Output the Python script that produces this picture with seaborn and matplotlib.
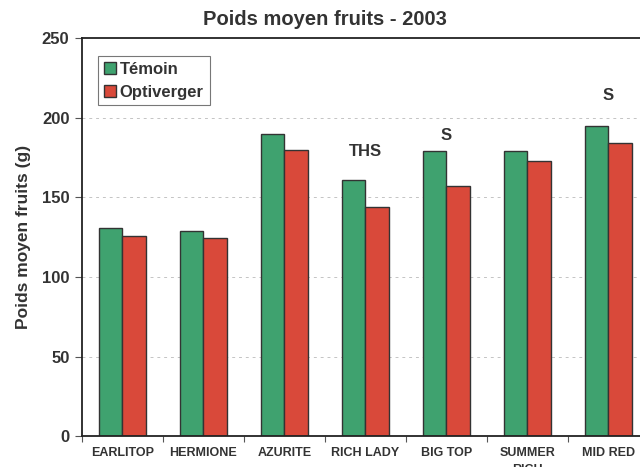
import pandas as pd
import matplotlib
matplotlib.use('Agg')
from matplotlib import pyplot as plt
import seaborn as sns

varietes = ['EARLITOP', 'HERMIONE', 'AZURITE', 'RICH LADY', 'BIG TOP', 'SUMMER\nRICH', 'MID RED']
temoin = [131, 129, 190, 161, 179, 179, 195]
optiverger = [126, 124.5, 180, 144, 157.5, 173, 184]
signif = ['', '', '', 'THS', 'S', '', 'S']
signif_y = [0, 0, 0, 179, 189, 0, 214]

df = pd.DataFrame({'variete': varietes * 2,
                   'poids': temoin + optiverger,
                   'modalite': ['Témoin'] * len(varietes) + ['Optiverger'] * len(varietes)})

sns.set_style('white')
plt.rcParams['font.family'] = ['Liberation Sans', 'DejaVu Sans']
plt.rcParams['font.weight'] = 'bold'
txt = '#333333'

fig = plt.figure(figsize=(6.4, 4.67), dpi=100)
ax = fig.add_axes([0.128, 0.066, 1.0125, 0.852])

ax.set_axisbelow(True)
for v in [50, 100, 150, 200]:
    ax.axhline(v, color='#c4c4c4', lw=0.7, ls=(0, (3, 4)), zorder=0)

sns.barplot(data=df, x='variete', y='poids', hue='modalite', order=varietes,
            palette=['#3fa26f', '#d9493a'], saturation=1, width=0.57, gap=0,
            edgecolor='#333333', linewidth=1.0, ax=ax)

ax.set_xlim(-0.5, 7.5)
ax.set_ylim(0, 250)
ax.set_yticks([0, 50, 100, 150, 200, 250])
ax.tick_params(axis='y', direction='out', length=5, width=0.8, color='#555555',
               labelsize=12, labelcolor=txt, pad=4, left=True)
ax.set_xticks(range(len(varietes)))
ax.set_xticklabels(varietes, fontsize=9, color=txt, linespacing=1.5)
ax.tick_params(axis='x', length=0, pad=8)
ax.set_xticks([i - 0.5 for i in range(9)], minor=True)
ax.tick_params(axis='x', which='minor', direction='out', length=4, width=0.8,
               color='#555555', bottom=True)

for s in ['left', 'bottom', 'top']:
    ax.spines[s].set_color('#222222')
    ax.spines[s].set_linewidth(1.3)
ax.spines['right'].set_visible(False)

for i, (lab, y) in enumerate(zip(signif, signif_y)):
    if lab:
        ax.text(i, y, lab, ha='center', va='center', fontsize=12,
                fontweight='bold', color=txt)

ax.set_xlabel('')
ax.set_ylabel('Poids moyen fruits (g)', fontsize=12.5, fontweight='bold',
              color=txt, labelpad=8)
fig.suptitle('Poids moyen fruits - 2003', x=0.508, y=0.978, fontsize=14.5,
             fontweight='bold', color=txt)

leg = ax.legend(loc='upper left', bbox_to_anchor=(0.025, 0.955), frameon=True,
                fancybox=False, edgecolor='#555555', fontsize=12,
                handlelength=0.75, handleheight=0.75, handletextpad=0.2,
                borderpad=0.35, labelspacing=0.45, borderaxespad=0)
leg.get_frame().set_linewidth(0.8)
for t in leg.get_texts():
    t.set_color(txt)

fig.savefig('out.png', dpi=100)
